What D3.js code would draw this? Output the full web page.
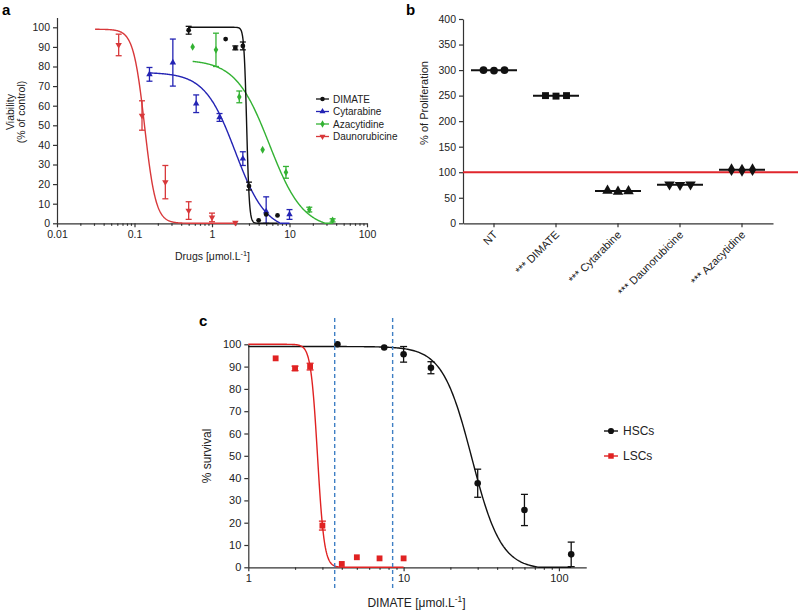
<!DOCTYPE html>
<html>
<head>
<meta charset="utf-8">
<script src="https://cdn.jsdelivr.net/npm/d3@7"></script>
<style>
  body { margin: 0; background: #fff; }
  svg { font-family: "Liberation Sans", Arial, sans-serif; }
  .axis path, .axis line { stroke: #333; stroke-width: 1.2; }
  .axis text { fill: #222; }
</style>
</head>
<body>
<div id="chart"></div>
<script>
// ---- panel a : viability vs drug dose ----
var drugNames = ["DIMATE", "Cytarabine", "Azacytidine", "Daunorubicine"];
var drugColors = ["#111111", "#2424b4", "#33b233", "#d8383a"];

var dimateDose = [0.5, 1.5, 2, 2.5, 3, 4, 5, 7];
var dimateViab = [98.5, 94, 89.5, 90.5, 19, 1.5, 4.5, 4];
var dimateErr  = [2, 0, 1, 2, 2, 0, 0, 0];

var cytaDose = [0.156, 0.3125, 0.625, 1.25, 2.5, 5, 10];
var cytaViab = [76, 82, 61, 54, 33, 6, 4.5];
var cytaErr  = [3.5, 12, 4.5, 2, 3.5, 7.5, 2.5];

var azaDose = [0.5625, 1.125, 2.25, 4.5, 9, 18, 36];
var azaViab = [90, 88.5, 64.5, 37.5, 26, 7, 1.5];
var azaErr  = [0, 8.5, 3, 0, 3, 1.2, 0.8];

var daunoDose = [0.0625, 0.125, 0.25, 0.5, 1, 2];
var daunoViab = [91, 55, 21, 6.5, 3, 0.3];
var daunoErr  = [5.5, 7.5, 8.5, 4.5, 2.2, 0];

// fitted curves: [top, bottom, EC50, hill, from, to]
var dimateFit = [100, 0, 2.8, 25, 0.5, 7];
var cytaFit   = [77, -4, 2, 2.2, 0.156, 10];
var azaFit    = [83.5, -3, 5.5, 2, 0.5625, 36];
var daunoFit  = [99, 0, 0.135, 6, 0.031, 2];

var aTicksX = [0.01, 0.1, 1, 10, 100];
var aTicksY = [0, 10, 20, 30, 40, 50, 60, 70, 80, 90, 100];

// ---- panel b : proliferation ----
var bCategories = ["NT", "*** DIMATE", "*** Cytarabine", "*** Daunorubicine", "*** Azacytidine"];
var bValues = [
    [300, 299, 300],
    [250, 249, 250],
    [64, 62, 63],
    [76, 75, 76],
    [105, 104, 105]
];
var bTicksY = [0, 50, 100, 150, 200, 250, 300, 350, 400];
var bReference = 100;

// ---- panel c : survival of HSCs / LSCs ----
var hscDose = [3.75, 7.5, 10, 15, 30, 60, 120];
var hscSurv = [100, 98.6, 95.5, 89.5, 37.7, 25.7, 5.8];
var hscErr  = [0, 0, 3.5, 2.7, 6.3, 7, 5.5];

var lscDose = [1.5, 2, 2.5, 3, 4, 5, 7, 10];
var lscSurv = [93.7, 89.2, 90, 18.7, 1.5, 4.5, 4, 4];
var lscErr  = [0, 1, 1.5, 2, 0, 0, 0, 0];

var hscFit = [99, -1, 27.5, 4.6, 1, 120];
var lscFit = [100, 0, 2.79, 20, 1, 10];
var cDashed = [3.6, 8.5];
var cTicksX = [1, 10, 100];
var cTicksY = [0, 10, 20, 30, 40, 50, 60, 70, 80, 90, 100];

var svg = d3.select("#chart").append("svg")
    .attr("width", 798)
    .attr("height", 611);

function fourPL(p, x) {
    return p[1] + (p[0] - p[1]) / (1 + Math.pow(x / p[2], p[3]));
}

function fitPoints(p) {
    var pts = [];
    var l0 = Math.log10(p[4]), l1 = Math.log10(p[5]);
    for (var i = 0; i <= 300; i++) {
        var xv = Math.pow(10, l0 + (l1 - l0) * i / 300);
        pts.push([xv, Math.max(0, fourPL(p, xv))]);
    }
    return pts;
}

// log axis minor ticks (2..9 in each decade)
function minorTicks(lo, hi) {
    var out = [];
    for (var e = Math.floor(Math.log10(lo)); e < Math.ceil(Math.log10(hi)); e++) {
        for (var m = 2; m <= 9; m++) {
            var v = m * Math.pow(10, e);
            if (v >= lo && v <= hi) out.push(v);
        }
    }
    return out;
}

function symbolPath(shape, size) {
    if (shape === "circle") return d3.symbol(d3.symbolCircle, size)();
    if (shape === "square") return d3.symbol(d3.symbolSquare, size)();
    if (shape === "diamond") return d3.symbol(d3.symbolDiamond, size)();
    return d3.symbol(d3.symbolTriangle, size)();
}

function drawSeries(g, x, y, dose, vals, errs, color, shape, size, cap) {
    var pts = dose.map(function(d, i) { return { d: d, v: vals[i], e: errs[i] }; });
    var eb = g.append("g").attr("stroke", color).attr("stroke-width", 1.3);
    pts.filter(function(p) { return p.e > 0; }).forEach(function(p) {
        var lo = Math.max(0, p.v - p.e), hi = p.v + p.e;
        eb.append("line").attr("x1", x(p.d)).attr("x2", x(p.d)).attr("y1", y(lo)).attr("y2", y(hi));
        eb.append("line").attr("x1", x(p.d) - cap).attr("x2", x(p.d) + cap).attr("y1", y(lo)).attr("y2", y(lo));
        eb.append("line").attr("x1", x(p.d) - cap).attr("x2", x(p.d) + cap).attr("y1", y(hi)).attr("y2", y(hi));
    });
    g.append("g").selectAll("path").data(pts).enter().append("path")
        .attr("d", symbolPath(shape, size))
        .attr("fill", color)
        .attr("transform", function(p) {
            return "translate(" + x(p.d) + "," + y(p.v) + ")" + (shape === "down" ? " rotate(180)" : "");
        });
}

function drawFit(g, x, y, p, color) {
    var line = d3.line()
        .curve(d3.curveLinear)
        .x(function(d) { return x(d[0]); })
        .y(function(d) { return y(d[1]); });
    g.append("path")
        .attr("d", line(fitPoints(p)))
        .attr("fill", "none")
        .attr("stroke", color)
        .attr("stroke-width", 1.4);
}

function logAxis(g, x, y0, ticks, fontSize) {
    var dom = x.domain();
    g.append("g").attr("class", "axis")
        .attr("transform", "translate(0," + y0 + ")")
        .call(d3.axisBottom(x).tickValues(minorTicks(dom[0], dom[1])).tickSize(2.5).tickFormat(""))
        .select(".domain").remove();
    var ax = g.append("g").attr("class", "axis")
        .attr("transform", "translate(0," + y0 + ")")
        .call(d3.axisBottom(x).tickValues(ticks).tickSizeInner(4).tickSizeOuter(0)
            .tickFormat(function(d) { return String(d); }));
    ax.selectAll("text").style("font-size", fontSize + "px");
    return ax;
}

function linAxis(g, y, x0, ticks, fontSize) {
    var ax = g.append("g").attr("class", "axis")
        .attr("transform", "translate(" + x0 + ",0)")
        .call(d3.axisLeft(y).tickValues(ticks).tickSizeInner(4).tickSizeOuter(0));
    ax.selectAll("text").style("font-size", fontSize + "px");
    return ax;
}

function unitLabel(g, x, y, prefix, fontSize) {
    var t = g.append("text")
        .attr("x", x).attr("y", y)
        .attr("text-anchor", "middle")
        .style("font-size", fontSize + "px")
        .attr("fill", "#222");
    t.append("tspan").text(prefix + " [μmol.L");
    t.append("tspan").attr("dy", -fontSize * 0.4).style("font-size", (fontSize * 0.7) + "px").text("-1");
    t.append("tspan").attr("dy", fontSize * 0.4).text("]");
}

// ================= panel a =================
var ga = svg.append("g");
var xa = d3.scaleLog().domain([0.01, 100]).range([57, 367]);
var ya = d3.scaleLinear().domain([0, 105]).range([223.3, 17.5]);

linAxis(ga, ya, 57, aTicksY, 10.5);
logAxis(ga, xa, 223.3, aTicksX, 10.5);

var aSeries = [
    { dose: dimateDose, v: dimateViab, e: dimateErr, fit: dimateFit, shape: "circle" },
    { dose: cytaDose, v: cytaViab, e: cytaErr, fit: cytaFit, shape: "triangle" },
    { dose: azaDose, v: azaViab, e: azaErr, fit: azaFit, shape: "diamond" },
    { dose: daunoDose, v: daunoViab, e: daunoErr, fit: daunoFit, shape: "down" }
];
// draw in reverse so DIMATE is on top
aSeries.slice().reverse().forEach(function(s, k) {
    var i = aSeries.length - 1 - k;
    drawFit(ga, xa, ya, s.fit, drugColors[i]);
    drawSeries(ga, xa, ya, s.dose, s.v, s.e, drugColors[i], s.shape, 18, 3);
});

var legA = ga.append("g");
drugNames.forEach(function(n, i) {
    var ly = 99 + i * 12.5;
    legA.append("line").attr("x1", 316).attr("x2", 329).attr("y1", ly).attr("y2", ly)
        .attr("stroke", drugColors[i]).attr("stroke-width", 1.3);
    legA.append("path").attr("d", symbolPath(aSeries[i].shape, 16)).attr("fill", drugColors[i])
        .attr("transform", "translate(322.5," + ly + ")" + (aSeries[i].shape === "down" ? " rotate(180)" : ""));
    legA.append("text").attr("x", 333).attr("y", ly + 3.6).style("font-size", "10px").attr("fill", "#222").text(n);
});

ga.append("text").attr("transform", "translate(14,112) rotate(-90)")
    .attr("text-anchor", "middle").style("font-size", "10.5px").attr("fill", "#222").text("Viability");
ga.append("text").attr("transform", "translate(25,112) rotate(-90)")
    .attr("text-anchor", "middle").style("font-size", "10.5px").attr("fill", "#222").text("(% of control)");
unitLabel(ga, 212.5, 260, "Drugs", 10.5);

svg.append("text").attr("x", 2).attr("y", 15).style("font-size", "15px").style("font-weight", "bold").text("a");

// ================= panel b =================
var gb = svg.append("g");
var xb = d3.scaleBand().domain(bCategories).range([463, 773]);
var yb = d3.scaleLinear().domain([0, 400]).range([223.3, 19]);
var bShapes = ["circle", "square", "triangle", "down", "diamond"];

linAxis(gb, yb, 463, bTicksY, 10.5);
var axb = gb.append("g").attr("class", "axis")
    .attr("transform", "translate(0,223.3)")
    .call(d3.axisBottom(xb).tickSizeInner(4).tickSizeOuter(0));
axb.selectAll("text")
    .style("font-size", "11px")
    .attr("text-anchor", "end")
    .attr("dy", null)
    .attr("y", 0)
    .attr("transform", "translate(4,12) rotate(-45)");

gb.append("line")
    .attr("x1", 463).attr("x2", 798)
    .attr("y1", yb(bReference)).attr("y2", yb(bReference))
    .attr("stroke", "#e0262c").attr("stroke-width", 2);

bCategories.forEach(function(c, i) {
    var cx = xb(c) + xb.bandwidth() / 2;
    var mean = d3.mean(bValues[i]);
    gb.append("line").attr("x1", cx - 23).attr("x2", cx + 23)
        .attr("y1", yb(mean)).attr("y2", yb(mean))
        .attr("stroke", "#111").attr("stroke-width", 2);
    bValues[i].forEach(function(v, j) {
        gb.append("path").attr("d", symbolPath(bShapes[i], 48)).attr("fill", "#111")
            .attr("transform", "translate(" + (cx + (j - 1) * 10.5) + "," + yb(v) + ")" + (bShapes[i] === "down" ? " rotate(180)" : ""));
    });
});

gb.append("text").attr("transform", "translate(428,103) rotate(-90)")
    .attr("text-anchor", "middle").style("font-size", "11px").attr("fill", "#222").text("% of Proliferation");
svg.append("text").attr("x", 406).attr("y", 15).style("font-size", "15px").style("font-weight", "bold").text("b");

// ================= panel c =================
var gc = svg.append("g");
var xc = d3.scaleLog().domain([1, 150]).range([248.3, 248.3 + 155.3 * Math.log10(150)]);
var yc = d3.scaleLinear().domain([0, 100]).range([567.3, 344.3]);

linAxis(gc, yc, 248.3, cTicksY, 11);
logAxis(gc, xc, 567.3, cTicksX, 11);

drawFit(gc, xc, yc, hscFit, "#111");
drawFit(gc, xc, yc, lscFit, "#e02222");
drawSeries(gc, xc, yc, lscDose, lscSurv, lscErr, "#e02222", "square", 34, 3.5);
drawSeries(gc, xc, yc, hscDose, hscSurv, hscErr, "#111", "circle", 34, 3.5);

cDashed.forEach(function(d) {
    gc.append("line").attr("x1", xc(d)).attr("x2", xc(d))
        .attr("y1", 318).attr("y2", 590)
        .attr("stroke", "#3f7fc4").attr("stroke-width", 1.4)
        .attr("stroke-dasharray", "4,3");
});

var cLegend = [["HSCs", "#111", "circle"], ["LSCs", "#e02222", "square"]];
cLegend.forEach(function(l, i) {
    var ly = 431 + i * 25;
    gc.append("line").attr("x1", 604).attr("x2", 618).attr("y1", ly).attr("y2", ly)
        .attr("stroke", l[1]).attr("stroke-width", 1.4);
    gc.append("path").attr("d", symbolPath(l[2], 30)).attr("fill", l[1])
        .attr("transform", "translate(611," + ly + ")");
    gc.append("text").attr("x", 623).attr("y", ly + 4.2).style("font-size", "12px").attr("fill", "#222").text(l[0]);
});

gc.append("text").attr("transform", "translate(211,456) rotate(-90)")
    .attr("text-anchor", "middle").style("font-size", "12px").attr("fill", "#222").text("% survival");
unitLabel(gc, 416.5, 607, "DIMATE", 12);
svg.append("text").attr("x", 199).attr("y", 326).style("font-size", "15px").style("font-weight", "bold").text("c");
</script>
</body>
</html>
